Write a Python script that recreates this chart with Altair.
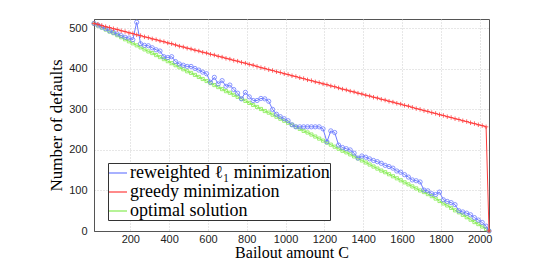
import altair as alt
import pandas as pd

# Bailout amount C
C = [13, 33, 53, 73, 93, 113, 133, 153, 173, 193,
     213, 233, 253, 273, 293, 313, 333, 353, 373, 393,
     413, 433, 453, 473, 493, 513, 533, 553, 573, 593,
     613, 633, 653, 673, 693, 713, 733, 753, 773, 793,
     813, 833, 853, 873, 893, 913, 933, 953, 973, 993,
     1013, 1033, 1053, 1073, 1093, 1113, 1133, 1153, 1173, 1193,
     1213, 1233, 1253, 1273, 1293, 1313, 1333, 1353, 1373, 1393,
     1413, 1433, 1453, 1473, 1493, 1513, 1533, 1553, 1573, 1593,
     1613, 1633, 1653, 1673, 1693, 1713, 1733, 1753, 1773, 1793,
     1813, 1833, 1853, 1873, 1893, 1913, 1933, 1953, 1973, 1993,
     2013, 2033, 2048]

reweighted = [512, 508, 503, 499, 494, 490, 486, 482, 478, 476,
              472, 515, 462, 458, 457, 452, 447, 444, 430, 428,
              430, 418, 412, 409, 406, 406, 401, 397, 392, 388,
              367, 379, 363, 371, 357, 360, 349, 340, 326, 342,
              331, 322, 322, 327, 326, 320, 300, 288, 282, 277,
              272, 262, 257, 257, 257, 257, 257, 257, 257, 252,
              220, 247, 243, 212, 206, 203, 200, 192, 180, 185,
              182, 178, 174, 171, 167, 162, 159, 155, 148, 145,
              139, 133, 126, 124, 121, 101, 99, 92, 90, 96,
              77, 73, 70, 65, 50, 47, 44, 40, 33, 27,
              21, 12, 0]

greedy = [512, 510, 507, 504, 502, 499, 497, 494, 492, 489,
          487, 484, 482, 479, 477, 474, 472, 469, 467, 464,
          462, 459, 456, 454, 451, 449, 446, 444, 441, 439,
          436, 434, 431, 429, 426, 424, 421, 419, 416, 414,
          411, 409, 406, 403, 401, 398, 396, 393, 391, 388,
          386, 383, 381, 378, 376, 373, 371, 368, 366, 363,
          361, 358, 356, 353, 350, 348, 345, 343, 340, 338,
          335, 333, 330, 328, 325, 323, 320, 318, 315, 313,
          310, 308, 305, 302, 300, 297, 295, 292, 290, 287,
          285, 282, 280, 277, 275, 272, 270, 267, 265, 262,
          260, 257, 0]

optimal = [512, 507, 502, 497, 492, 488, 483, 478, 473, 468,
           463, 458, 453, 448, 443, 439, 434, 429, 424, 419,
           414, 409, 404, 399, 394, 390, 385, 380, 375, 370,
           365, 360, 355, 350, 345, 341, 336, 331, 326, 321,
           316, 311, 306, 301, 296, 292, 287, 282, 277, 272,
           267, 262, 257, 252, 247, 243, 238, 233, 228, 223,
           218, 213, 208, 203, 198, 194, 189, 184, 179, 174,
           169, 164, 159, 154, 149, 145, 140, 135, 130, 125,
           120, 115, 110, 105, 100, 96, 91, 86, 80, 74,
           68, 63, 57, 51, 46, 40, 34, 28, 22, 17,
           11, 5, 0]

series_names = ["reweighted \u2113\u2081 minimization", "greedy minimization", "optimal solution"]
series_colors = ["#6f7dff", "#ff3c3c", "#86ec52"]
x_ticks = [200, 400, 600, 800, 1000, 1200, 1400, 1600, 1800, 2000]
y_ticks = [0, 100, 200, 300, 400, 500]

rows = []
for name, vals in zip(series_names, [reweighted, greedy, optimal]):
    for c, v in zip(C, vals):
        rows.append({"C": c, "defaults": v, "series": name})
df = pd.DataFrame(rows)

x_enc = alt.X("C:Q", scale=alt.Scale(domain=[13, 2048], nice=False, zero=False),
              axis=alt.Axis(values=x_ticks, format="d", title="Bailout amount C", ticks=False,
                            labelPadding=2, titlePadding=0, titleFontSize=16))
y_enc = alt.Y("defaults:Q", scale=alt.Scale(domain=[0, 523], nice=False),
              axis=alt.Axis(values=y_ticks, format="d", title="Number of defaults", ticks=False,
                            labelPadding=7, titlePadding=3))
color_enc = alt.Color("series:N",
                      scale=alt.Scale(domain=series_names, range=series_colors),
                      legend=alt.Legend(title=None, orient="none", legendX=14, legendY=144,
                                        symbolType="stroke", symbolSize=324,
                                        symbolStrokeWidth=1.2, symbolOpacity=1,
                                        labelFont="Liberation Serif",
                                        labelFontSize=18, labelColor="black",
                                        strokeColor="#333333", fillColor="white",
                                        padding=0, rowPadding=0, labelOffset=2,
                                        labelLimit=400))

shapes = {series_names[0]: "circle",
          series_names[1]: "M-1,0L1,0M0,-1L0,1",
          series_names[2]: "square"}
sizes = {series_names[0]: 18, series_names[1]: 20, series_names[2]: 10}
cmap = dict(zip(series_names, series_colors))

layers = []
for name in [series_names[2], series_names[0], series_names[1]]:
    base = alt.Chart(df).transform_filter(alt.datum.series == name)
    layers.append(base.mark_line(strokeWidth=1).encode(x=x_enc, y=y_enc, color=color_enc))
    layers.append(base.mark_point(shape=shapes[name], filled=False, size=sizes[name],
                                  strokeWidth=0.8, opacity=1, color=cmap[name])
                  .encode(x=x_enc, y=y_enc))

chart = alt.layer(*layers).properties(
    width=395, height=212,
    autosize=alt.AutoSizeParams(type="none"),
    padding={"left": 86, "top": 11, "right": 40, "bottom": 31},
).configure_view(stroke="#555555", strokeWidth=1).configure_axis(
    labelFont="Liberation Sans", labelFontSize=11, labelColor="#222222",
    titleFont="Liberation Serif", titleFontSize=17, titleFontWeight="normal",
    titleColor="black", domainColor="#555555", gridColor="#cfcfcf",
    gridDash=[1, 2], gridWidth=1,
)

chart.save("out.html", embed_options={"renderer": "svg", "actions": False})
